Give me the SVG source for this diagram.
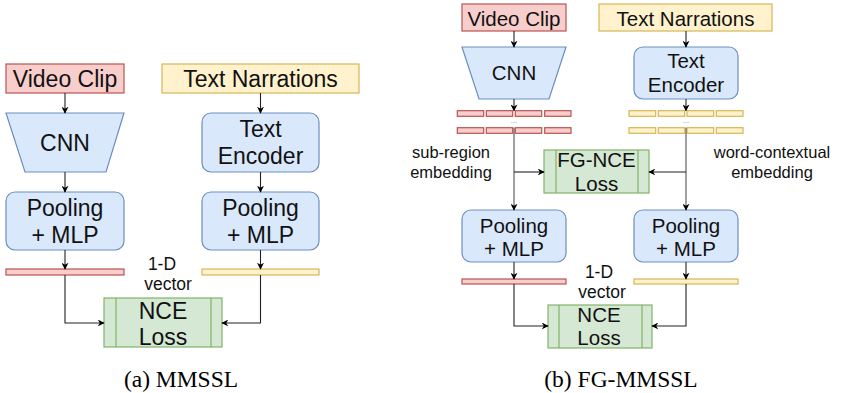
<svg xmlns="http://www.w3.org/2000/svg" width="843" height="393" viewBox="0 0 843 393">
<defs>
<marker id="ah" viewBox="0 0 10 10" refX="9" refY="5" markerWidth="7" markerHeight="7" markerUnits="userSpaceOnUse" orient="auto">
<path d="M0,0 L10,5 L0,10 L3,5 Z" fill="#000"/>
</marker>
<style>
.red{fill:#f8cecc;stroke:#b85450;stroke-width:1.2}
.yel{fill:#fff2cc;stroke:#d6b656;stroke-width:1.2}
.blue{fill:#dae8fc;stroke:#6c8ebf;stroke-width:1.2}
.green{fill:#d5e8d4;stroke:#82b366;stroke-width:1.2}
.gl{stroke:#82b366;stroke-width:1.2;fill:none}
.t{font-family:"Liberation Sans",Arial,sans-serif;fill:#111;text-anchor:middle}
.L{font-size:23px}
.R{font-size:20.5px}
.s{font-size:16.5px}
.cap{font-family:"Liberation Serif","Times New Roman",serif;font-size:23.5px;fill:#000;text-anchor:middle}
.c{fill:none;stroke:#222;stroke-width:1.1}
.a{marker-end:url(#ah)}
</style>
</defs>
<rect width="843" height="393" fill="#fff"/>

<!-- Panel (a) -->
<g id="a-video"><rect class="red" x="6" y="64" width="118" height="29"/><text class="t L" x="65" y="87">Video Clip</text></g>
<g id="a-text"><rect class="yel" x="162" y="64" width="197" height="29"/><text class="t L" x="260.5" y="87">Text Narrations</text></g>
<g id="a-cnn"><path class="blue" d="M6,113 H124 L106,172 H25 Z"/><text class="t L" x="65" y="150.5">CNN</text></g>
<g id="a-enc"><rect class="blue" x="202" y="113" width="117" height="59" rx="9"/><text class="t L" x="260.5" y="137">Text</text><text class="t L" x="260.5" y="164">Encoder</text></g>
<g id="a-pool1"><rect class="blue" x="6" y="192" width="118" height="58" rx="9"/><text class="t L" x="65" y="216">Pooling</text><text class="t L" x="65" y="243">+ MLP</text></g>
<g id="a-pool2"><rect class="blue" x="202" y="192" width="117" height="58" rx="9"/><text class="t L" x="260.5" y="216">Pooling</text><text class="t L" x="260.5" y="243">+ MLP</text></g>
<g id="a-vec1"><rect class="red" x="6" y="269" width="118" height="6"/></g>
<g id="a-vec2"><rect class="yel" x="202" y="269" width="117" height="6"/></g>
<g id="a-label"><text class="t" style="font-size:17.5px" x="162" y="270">1-D</text><text class="t" style="font-size:17.5px" x="168" y="290">vector</text></g>
<g id="a-nce"><rect class="green" x="104" y="298" width="118" height="49"/><line class="gl" x1="116" y1="298" x2="116" y2="347"/><line class="gl" x1="211" y1="298" x2="211" y2="347"/><text class="t L" x="163" y="319">NCE</text><text class="t L" x="163" y="345">Loss</text></g>

<!-- Panel (b) -->
<g id="b-video"><rect class="red" x="462" y="4" width="104" height="27"/><text class="t R" x="514" y="25.5">Video Clip</text></g>
<g id="b-text"><rect class="yel" x="599" y="4" width="173" height="27"/><text class="t R" x="685.5" y="25.5">Text Narrations</text></g>
<g id="b-cnn"><path class="blue" d="M462,47 H566 L549,99 H479 Z"/><text class="t R" x="514" y="80">CNN</text></g>
<g id="b-enc"><rect class="blue" x="634" y="47" width="104" height="52" rx="9"/><text class="t R" x="686" y="68">Text</text><text class="t R" x="686" y="92">Encoder</text></g>
<g id="b-emb1">
<rect class="red" x="457.3" y="110.7" width="26.4" height="5.6"/><rect class="red" x="486.3" y="110.7" width="26.4" height="5.6"/><rect class="red" x="515.3" y="110.7" width="26.4" height="5.6"/><rect class="red" x="544.7" y="110.7" width="26.3" height="5.6"/>
<rect class="red" x="457.3" y="127.7" width="26.4" height="5.6"/><rect class="red" x="486.3" y="127.7" width="26.4" height="5.6"/><rect class="red" x="515.3" y="127.7" width="26.4" height="5.6"/><rect class="red" x="544.7" y="127.7" width="26.3" height="5.6"/>
<text class="t" style="font-size:8px;fill:#888" x="514" y="123">...</text>
</g>
<g id="b-emb2">
<rect class="yel" x="629" y="110.7" width="26.7" height="5.6"/><rect class="yel" x="658.3" y="110.7" width="26.4" height="5.6"/><rect class="yel" x="687" y="110.7" width="26.7" height="5.6"/><rect class="yel" x="716.3" y="110.7" width="26.7" height="5.6"/>
<rect class="yel" x="629" y="127.7" width="26.7" height="5.6"/><rect class="yel" x="658.3" y="127.7" width="26.4" height="5.6"/><rect class="yel" x="687" y="127.7" width="26.7" height="5.6"/><rect class="yel" x="716.3" y="127.7" width="26.7" height="5.6"/>
<text class="t" style="font-size:8px;fill:#888" x="686" y="123">...</text>
</g>
<g id="b-sublabel"><text class="t s" x="451" y="158">sub-region</text><text class="t s" x="451" y="178">embedding</text></g>
<g id="b-wordlabel"><text class="t s" x="772" y="158">word-contextual</text><text class="t s" x="772" y="178">embedding</text></g>
<g id="b-fgnce"><rect class="green" x="544" y="150" width="105" height="43"/><line class="gl" x1="556" y1="150" x2="556" y2="193"/><line class="gl" x1="638" y1="150" x2="638" y2="193"/><text class="t R" x="596.5" y="167">FG-NCE</text><text class="t R" x="596.5" y="191">Loss</text></g>
<g id="b-pool1"><rect class="blue" x="462" y="210" width="104" height="52" rx="9"/><text class="t R" x="514" y="233">Pooling</text><text class="t R" x="514" y="256">+ MLP</text></g>
<g id="b-pool2"><rect class="blue" x="634" y="210" width="104" height="52" rx="9"/><text class="t R" x="686" y="233">Pooling</text><text class="t R" x="686" y="256">+ MLP</text></g>
<g id="b-vec1"><rect class="red" x="462" y="279" width="104" height="5"/></g>
<g id="b-vec2"><rect class="yel" x="634" y="279" width="104" height="5"/></g>
<g id="b-label"><text class="t" style="font-size:17.5px" x="599" y="278">1-D</text><text class="t" style="font-size:17.5px" x="602" y="298">vector</text></g>
<g id="b-nce"><rect class="green" x="548" y="305" width="104" height="43"/><line class="gl" x1="559" y1="305" x2="559" y2="348"/><line class="gl" x1="642" y1="305" x2="642" y2="348"/><text class="t R" x="599" y="322">NCE</text><text class="t R" x="599" y="345">Loss</text></g>

<g id="connectors">
<path class="c a" d="M65,93 V113"/>
<path class="c a" d="M260.5,93 V113"/>
<path class="c a" d="M65,172 V192"/>
<path class="c a" d="M260.5,172 V192"/>
<path class="c a" d="M65,250 V269"/>
<path class="c a" d="M260.5,250 V269"/>
<path class="c a" d="M65,275 V323 H104"/>
<path class="c a" d="M260.5,275 V323 H222"/>

<path class="c a" d="M514,31 V47"/>
<path class="c a" d="M686,31 V47"/>
<path class="c a" d="M514,99 V110.7"/>
<path class="c a" d="M686,99 V110.7"/>
<path class="c a" style="stroke:#555" d="M514,127.7 V210"/>
<path class="c a" style="stroke:#555" d="M686,127.7 V210"/>
<path class="c a" d="M514,172 H544"/>
<path class="c a" d="M686,172 H649"/>
<path class="c a" d="M514,262 V279"/>
<path class="c a" d="M686,262 V279"/>
<path class="c a" d="M514,284 V326 H548"/>
<path class="c a" d="M686,284 V326 H652"/>
</g>

<text class="cap" x="181" y="387">(a) MMSSL</text>
<text class="cap" x="621" y="387">(b) FG-MMSSL</text>
</svg>
